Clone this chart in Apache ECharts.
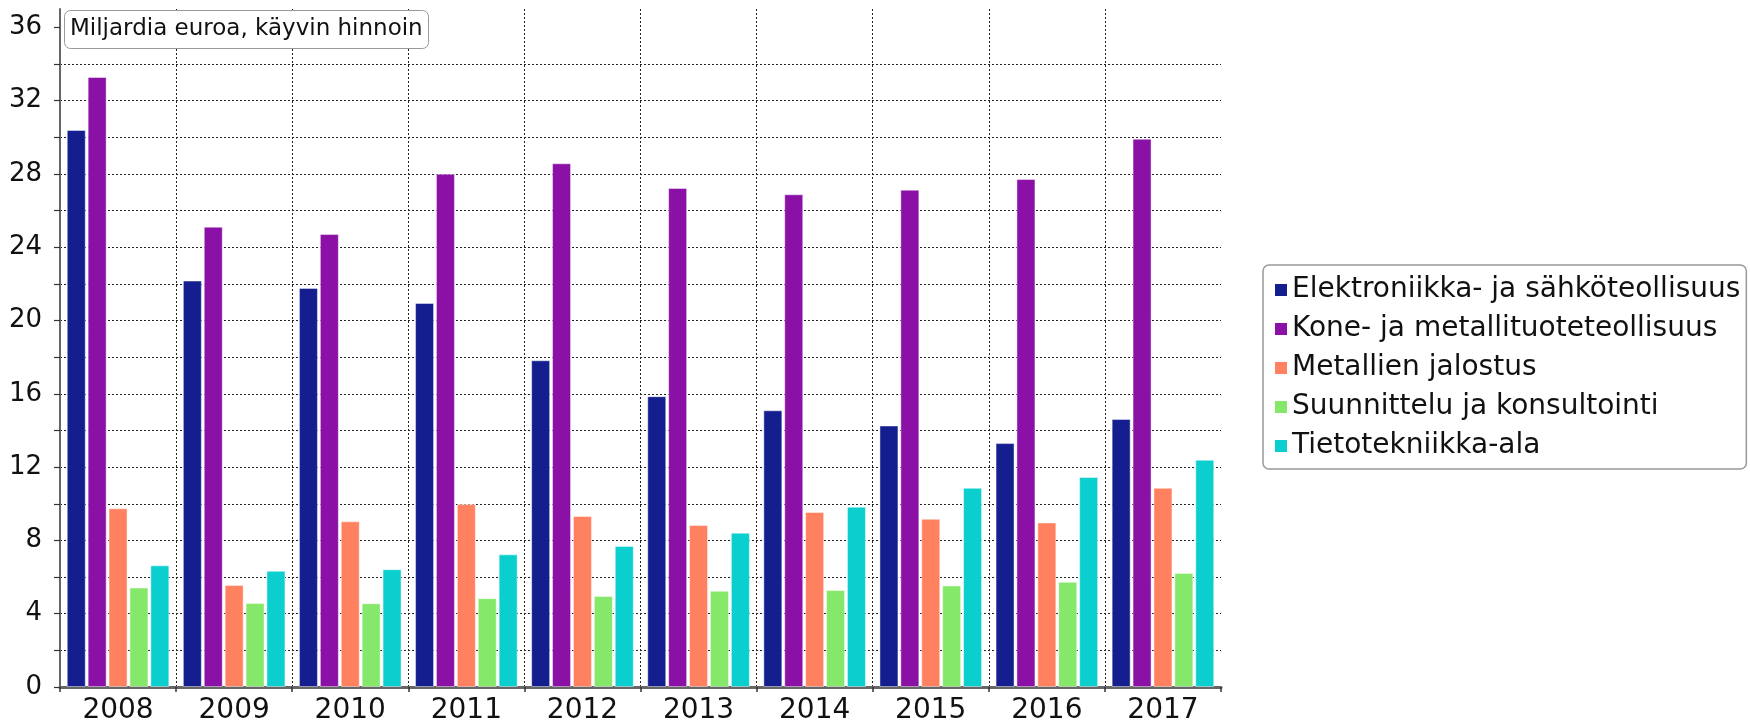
<!DOCTYPE html>
<html>
<head>
<meta charset="utf-8">
<script src="https://cdn.jsdelivr.net/npm/echarts@6/dist/echarts.min.js"></script>
<style>
html,body{margin:0;padding:0;background:#fff;}
#chart{width:1750px;height:723px;}
</style>
</head>
<body>
<div id="chart"></div>
<script>
const years = ['2008','2009','2010','2011','2012','2013','2014','2015','2016','2017'];
const seriesNames = [
  'Elektroniikka- ja sähköteollisuus',
  'Kone- ja metallituoteteollisuus',
  'Metallien jalostus',
  'Suunnittelu ja konsultointi',
  'Tietotekniikka-ala'
];
const elektroniikka = [30.4, 22.18, 21.78, 20.96, 17.83, 15.87, 15.1, 14.27, 13.31, 14.63];
const kone = [33.29, 25.12, 24.72, 28.01, 28.58, 27.23, 26.89, 27.14, 27.72, 29.92];
const metallien = [9.75, 5.57, 9.04, 9.98, 9.33, 8.84, 9.55, 9.18, 8.98, 10.87];
const suunnittelu = [5.43, 4.59, 4.57, 4.85, 4.97, 5.25, 5.29, 5.54, 5.74, 6.22];
const tietotekniikka = [6.64, 6.34, 6.43, 7.24, 7.7, 8.42, 9.84, 10.87, 11.46, 12.4];
const yTickLabels = [0, 4, 8, 12, 16, 20, 24, 28, 32, 36];
const yTickMarks = [0, 2, 4, 6, 8, 10, 12, 14, 16, 18, 20, 22, 24, 26, 28, 30, 32, 34, 36];
const unitTitle = 'Miljardia euroa, käyvin hinnoin';

const colors = ['#141E8F', '#8B10A6', '#FF8160', '#86E86A', '#0BCFCF'];
const values = [elektroniikka, kone, metallien, suunnittelu, tietotekniikka];
const FONT = 'DejaVu Sans';

const chart = echarts.init(document.getElementById('chart'), null, {renderer: 'canvas'});
chart.setOption({
  animation: false,
  backgroundColor: '#fff',
  textStyle: {fontFamily: FONT},
  title: {
    text: unitTitle,
    left: 64, top: 10,
    padding: [8, 6, 8, 6],
    borderColor: '#999', borderWidth: 1, borderRadius: 6,
    backgroundColor: '#fff',
    textStyle: {fontFamily: FONT, fontSize: 23, fontWeight: 'normal', color: '#111', lineHeight: 23},
    z: 10
  },
  legend: {
    orient: 'vertical',
    left: 1263, top: 265,
    padding: [11, 6, 9, 12],
    itemWidth: 12, itemHeight: 12, itemGap: 11,
    icon: 'rect',
    borderColor: '#999', borderWidth: 1.5, borderRadius: 6,
    backgroundColor: '#fff',
    itemStyle: {borderWidth: 0},
    textStyle: {fontFamily: FONT, fontSize: 28, lineHeight: 28, color: '#111'},
    data: seriesNames
  },
  grid: {left: 60, right: 529, top: 9, bottom: 36, containLabel: false, outerBoundsMode: 'none'},
  xAxis: {
    type: 'category',
    data: years,
    boundaryGap: true,
    axisLine: {show: true, lineStyle: {color: '#666', width: 3}},
    axisTick: {show: true, alignWithLabel: false, length: 5, lineStyle: {color: '#333', width: 1.5}},
    axisLabel: {fontFamily: FONT, fontSize: 28, color: '#111', margin: 10},
    splitLine: {show: true, showMinLine: false, showMaxLine: false, lineStyle: {color: '#222', width: 1, type: [2, 2]}}
  },
  yAxis: {
    type: 'value',
    min: 0, max: 37, interval: 2,
    axisLine: {show: true, lineStyle: {color: '#666', width: 2}},
    axisTick: {show: true, length: 6, customValues: yTickMarks, lineStyle: {color: '#333', width: 1.2}},
    axisLabel: {fontFamily: FONT, fontSize: 26, color: '#111', margin: 18, customValues: yTickLabels},
    splitLine: {show: true, showMinLine: false, showMaxLine: false, lineStyle: {color: '#222', width: 1, type: [2, 2]}}
  },
  series: seriesNames.map((name, i) => ({
    name: name,
    type: 'bar',
    data: values[i],
    barWidth: 19,
    barGap: '10%',
    itemStyle: {color: colors[i], borderColor: 'rgba(255,255,255,0.45)', borderWidth: 1}
  }))
});
</script>
</body>
</html>
